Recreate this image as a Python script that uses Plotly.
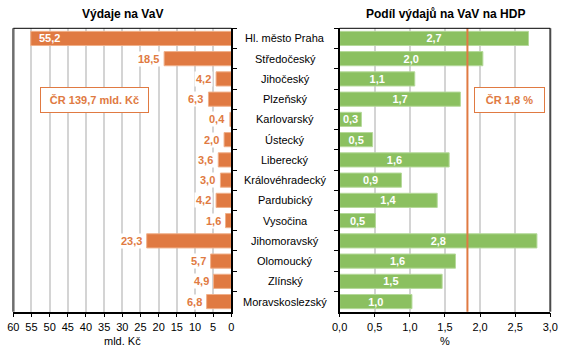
import plotly.graph_objects as go

regions = ["Hl. město Praha", "Středočeský", "Jihočeský", "Plzeňský", "Karlovarský",
           "Ústecký", "Liberecký", "Královéhradecký", "Pardubický", "Vysočina",
           "Jihomoravský", "Olomoucký", "Zlínský", "Moravskoslezský"]
spend = [55.2, 18.5, 4.2, 6.3, 0.4, 2.0, 3.6, 3.0, 4.2, 1.6, 23.3, 5.7, 4.9, 6.8]
share = [2.69, 2.04, 1.07, 1.72, 0.31, 0.47, 1.56, 0.88, 1.39, 0.51, 2.81, 1.65, 1.46, 1.03]
share_labels = ["2,7", "2,0", "1,1", "1,7", "0,3", "0,5", "1,6", "0,9", "1,4", "0,5", "2,8", "1,6", "1,5", "1,0"]
cr_share = 1.82
left_ticks = list(range(0, 61, 5))
right_ticks = [0, 0.5, 1.0, 1.5, 2.0, 2.5, 3.0]
right_tick_text = ["0,0", "0,5", "1,0", "1,5", "2,0", "2,5", "3,0"]

ORANGE = "#E07A42"
GREEN = "#8BC060"
FONT = "Liberation Sans, Arial, sans-serif"

def fmt(v):
    return f"{v:.1f}".replace(".", ",")

fig = go.Figure()
fig.add_trace(go.Bar(x=spend, y=regions, orientation="h", xaxis="x", yaxis="y",
                     marker=dict(color=ORANGE, line=dict(color="#F0B08A", width=1)),
                     width=0.7, hoverinfo="skip"))
fig.add_trace(go.Bar(x=share, y=regions, orientation="h", xaxis="x2", yaxis="y2",
                     marker=dict(color=GREEN, line=dict(color="#B5D99A", width=1)),
                     width=0.7, text=share_labels, textposition="inside",
                     insidetextanchor="middle",
                     textfont=dict(color="white", size=11, family=FONT, weight="bold"),
                     hoverinfo="skip"))

annotations = []
for r, v in zip(regions, spend):
    if v > 40:
        annotations.append(dict(x=v, y=r, xref="x", yref="y", text=f"<b>{fmt(v)}</b>",
                                showarrow=False, xanchor="left", xshift=6,
                                font=dict(color="white", size=11, family=FONT)))
    else:
        annotations.append(dict(x=v, y=r, xref="x", yref="y", text=f"<b>{fmt(v)}</b>",
                                showarrow=False, xanchor="right", xshift=-3,
                                bgcolor="white", borderpad=1,
                                font=dict(color=ORANGE, size=11, family=FONT)))
for r in regions:
    annotations.append(dict(x=0.5035, y=r, xref="paper", yref="y2", text=r,
                            showarrow=False, xanchor="center",
                            font=dict(color="black", size=11, family=FONT)))
annotations += [
    dict(x=0.2155, y=0.985, xref="paper", yref="paper", text="<b>Výdaje na VaV</b>",
         showarrow=False, xanchor="center", yanchor="top", font=dict(size=12, family=FONT, color="black")),
    dict(x=0.785, y=0.985, xref="paper", yref="paper", text="<b>Podíl výdajů na VaV na HDP</b>",
         showarrow=False, xanchor="center", yanchor="top", font=dict(size=12, family=FONT, color="black")),
    dict(x=0.1665, y=0.717, xref="paper", yref="paper", text="<b>ČR 139,7 mld. Kč</b>",
         showarrow=False, xanchor="center", yanchor="middle", bordercolor=ORANGE, borderwidth=1,
         borderpad=6, bgcolor="white", width=95, font=dict(size=11, family=FONT, color=ORANGE)),
    dict(x=0.899, y=0.717, xref="paper", yref="paper", text="<b>ČR 1,8 %</b>",
         showarrow=False, xanchor="center", yanchor="middle", bordercolor=ORANGE, borderwidth=1,
         borderpad=6, bgcolor="white", width=57, font=dict(size=11, family=FONT, color=ORANGE)),
]

shapes = [
    dict(type="line", xref="x2", yref="y2 domain", x0=cr_share, x1=cr_share, y0=0, y1=1,
         line=dict(color=ORANGE, width=2), layer="above"),
    dict(type="line", xref="x domain", yref="y domain", x0=0, x1=0, y0=0, y1=1,
         line=dict(color="#6E6E6E", width=2.5), layer="above"),
    dict(type="line", xref="x2 domain", yref="y2 domain", x0=1, x1=1, y0=0, y1=1,
         line=dict(color="#4A4A4A", width=2), layer="above"),
    dict(type="line", xref="x domain", yref="y domain", x0=0, x1=1, y0=1, y1=1,
         line=dict(color="black", width=1), layer="above"),
    dict(type="line", xref="x2 domain", yref="y2 domain", x0=0, x1=1, y0=1, y1=1,
         line=dict(color="black", width=1), layer="above"),
]

ydom = [0.117, 0.9198]
fig.update_layout(
    width=567, height=353, margin=dict(l=0, r=0, t=0, b=0, autoexpand=False),
    paper_bgcolor="white", plot_bgcolor="white", showlegend=False,
    font=dict(family=FONT, size=11, color="black"),
    uniformtext=dict(minsize=11, mode="show"),
    bargap=0.3,
    xaxis=dict(domain=[0.0235, 0.408], range=[60, 0], tickvals=left_ticks,
               showgrid=True, gridcolor="#D4D4D4", gridwidth=1.5, automargin=False,
               showline=True, linecolor="black", linewidth=1.5, ticks="outside", ticklen=4,
               tickcolor="black", zeroline=False, anchor="y",
               title=dict(text="mld. Kč", font=dict(size=11), standoff=6),
               tickfont=dict(size=11)),
    yaxis=dict(domain=ydom, anchor="x", side="right", autorange="reversed", automargin=False,
               showticklabels=False, ticks="outside", ticklen=4, tickcolor="black",
               tickson="boundaries", showline=True, linecolor="black", linewidth=1.5,
               showgrid=False),
    xaxis2=dict(domain=[0.599, 0.9705], range=[0, 3], tickvals=right_ticks,
                ticktext=right_tick_text, automargin=False,
                showgrid=True, gridcolor="#D4D4D4", gridwidth=1.5,
                showline=True, linecolor="black", linewidth=1.5, ticks="outside", ticklen=4,
                tickcolor="black", zeroline=False, anchor="y2",
                title=dict(text="%", font=dict(size=11), standoff=6),
                tickfont=dict(size=11)),
    yaxis2=dict(domain=ydom, anchor="x2", side="left", autorange="reversed", automargin=False,
                showticklabels=False, ticks="outside", ticklen=4, tickcolor="black",
                tickson="boundaries", showline=True, linecolor="black", linewidth=1.5,
                showgrid=False),
    annotations=annotations, shapes=shapes,
)

fig.write_html("out.html")
